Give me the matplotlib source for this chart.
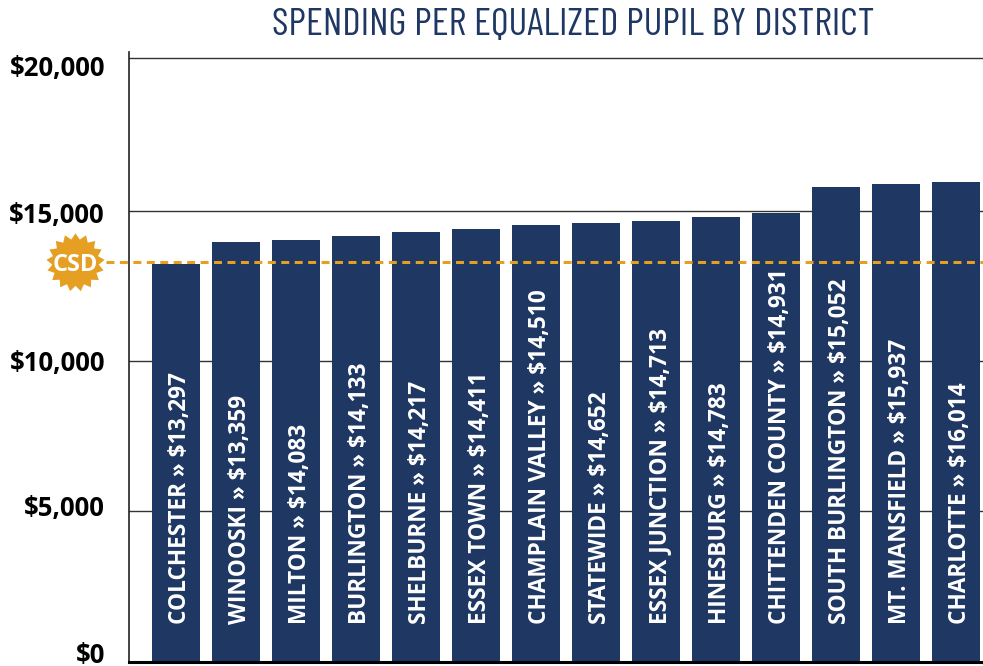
import matplotlib
matplotlib.use('Agg')
import matplotlib.pyplot as plt
import numpy as np
from matplotlib.path import Path

districts = ['COLCHESTER', 'WINOOSKI', 'MILTON', 'BURLINGTON', 'SHELBURNE', 'ESSEX TOWN',
             'CHAMPLAIN VALLEY', 'STATEWIDE', 'ESSEX JUNCTION', 'HINESBURG',
             'CHITTENDEN COUNTY', 'SOUTH BURLINGTON', 'MT. MANSFIELD', 'CHARLOTTE']
# printed amounts
printed = [13297, 13359, 14083, 14133, 14217, 14411, 14510, 14652, 14713, 14783,
           14931, 15052, 15937, 16014]
# bar heights, they do not follow the printed amounts exactly
heights = [13233, 13967, 14033, 14167, 14300, 14400, 14533, 14600, 14667, 14800,
           14933, 15800, 15900, 15967]
grid_values = [5000, 10000, 15000, 20100]
tick_values = [200, 5067, 9933, 14850, 19750]
tick_labels = ['$0', '$5,000', '$10,000', '$15,000', '$20,000']
csd_value = 13300

NAVY = '#1F3763'
GOLD = '#E5A024'
W, H = 983, 666
SANS = 'Open Sans'
TITLE = ['Barlow Condensed', 'Liberation Sans']

fig = plt.figure(figsize=(W / 100, H / 100), dpi=100)
ax = fig.add_axes([129 / W, (H - 662) / H, (W - 129) / W, 610 / H])
ax.set_xlim(-47 / 60, 807 / 60)
ax.set_ylim(-33, 20300)

for v in grid_values:
    ax.axhline(v, color='#333333', lw=1.0, zorder=1)

x = np.arange(len(districts))
ax.bar(x, heights, width=0.8, color=NAVY, zorder=2)

for i in x:
    ax.text(i + 1 / 60, 1233, '{} » ${:,}'.format(districts[i], printed[i]), rotation=90,
            rotation_mode='anchor', ha='left', va='center_baseline', color='white',
            fontsize=16.3, fontweight='bold', family=SANS, zorder=3)

ax.set_xticks([])
ax.set_yticks([])
for v, lab in zip(tick_values, tick_labels):
    ax.text(-71 / 60, v, lab, ha='right', va='center', fontsize=18.5,
            fontweight='bold', family=SANS, color='black', clip_on=False)

for s in ['top', 'right']:
    ax.spines[s].set_visible(False)
ax.spines['left'].set_linewidth(1.2)
ax.spines['left'].set_color('#222222')
ax.spines['bottom'].set_linewidth(2.2)
ax.spines['bottom'].set_color('black')

# CSD reference line and badge
ax.plot([-70 / 60, 807 / 60], [csd_value, csd_value], color=GOLD, lw=2.2,
        dashes=(2.6, 1.8), dash_capstyle='butt', zorder=4, clip_on=False)
angles = np.linspace(0, 2 * np.pi, 34, endpoint=False) + np.pi / 2
radii = np.where(np.arange(34) % 2 == 0, 1.0, 0.8)
verts = np.column_stack([radii * np.cos(angles), radii * np.sin(angles)])
star = Path(np.vstack([verts, verts[0]]), closed=True)
ax.plot([-101 / 60], [csd_value], marker=star, ms=42, color=GOLD, mec='none',
        clip_on=False, zorder=5)
ax.text(-101 / 60, csd_value, 'CSD', ha='center', va='center_baseline', color='white',
        fontsize=17, fontweight='bold', family=SANS, clip_on=False, zorder=6)

fig.text(573.5 / W, 1 - 26 / H, 'SPENDING PER EQUALIZED PUPIL BY DISTRICT', ha='center',
         va='center', color=NAVY, fontsize=28.4, fontweight=400, family=TITLE)

fig.savefig('out.png', dpi=100)
